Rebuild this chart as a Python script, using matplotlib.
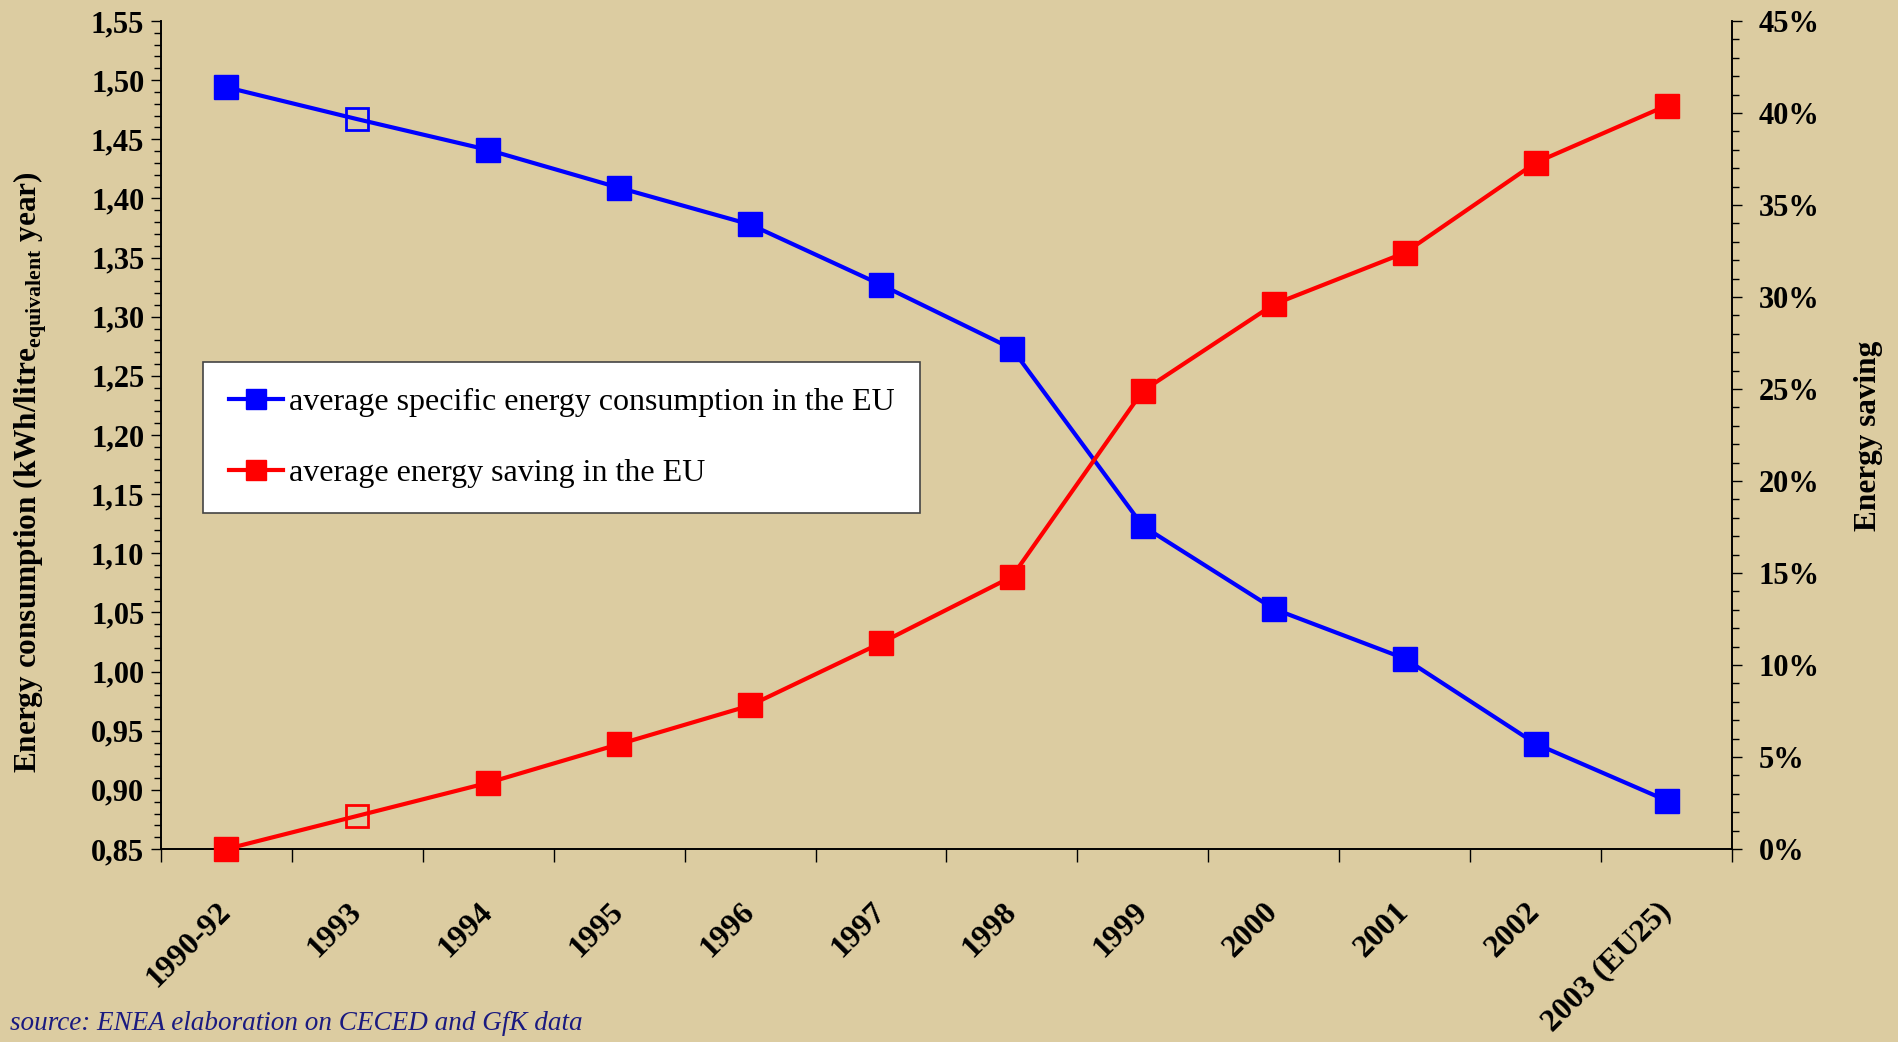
import matplotlib
matplotlib.use('Agg')
import matplotlib.pyplot as plt
from matplotlib.ticker import MultipleLocator, FuncFormatter, FixedLocator
from matplotlib.lines import Line2D

# data
years = ['1990-92', '1993', '1994', '1995', '1996', '1997', '1998',
         '1999', '2000', '2001', '2002', '2003 (EU25)']
consumption = [1.494, 1.467, 1.441, 1.409, 1.378, 1.327, 1.273,
               1.123, 1.053, 1.011, 0.939, 0.891]
saving = [0.0, 1.8, 3.6, 5.7, 7.8, 11.2, 14.8, 24.9, 29.6, 32.4, 37.3, 40.4]
hollow_idx = 1  # 1993 drawn with empty markers

bg = '#DCCCA1'
plt.rcParams['font.family'] = ['Liberation Serif', 'DejaVu Serif']
plt.rcParams['mathtext.fontset'] = 'custom'
plt.rcParams['mathtext.bf'] = 'Liberation Serif:bold'
plt.rcParams['mathtext.rm'] = 'Liberation Serif:bold'

fig = plt.figure(figsize=(18.99, 10.42), dpi=100, facecolor=bg)
ax = fig.add_axes([161/1899, 1-849/1042, (1732-161)/1899, (849-21)/1042])
ax.set_facecolor(bg)
ax2 = ax.twinx()

x = list(range(len(years)))
filled = [i for i in x if i != hollow_idx]

ax.plot(x, consumption, color='blue', lw=3, zorder=2)
ax.plot(filled, [consumption[i] for i in filled], ls='none', marker='s', ms=17,
        color='blue', zorder=3)
ax.plot([hollow_idx], [consumption[hollow_idx]], ls='none', marker='s', ms=16,
        mfc='none', mec='blue', mew=2, zorder=3)

ax2.plot(x, saving, color='red', lw=3, zorder=2)
ax2.plot(filled, [saving[i] for i in filled], ls='none', marker='s', ms=17,
         color='red', zorder=3, clip_on=False)
ax2.plot([hollow_idx], [saving[hollow_idx]], ls='none', marker='s', ms=16,
         mfc='none', mec='red', mew=2, zorder=3)

ax.set_xlim(-0.5, len(years) - 0.5)
ax.set_ylim(0.85, 1.55)
ax2.set_ylim(0, 45)

# x axis: labels at category centres, tick marks between categories
ax.xaxis.set_major_locator(FixedLocator(x))
ax.xaxis.set_minor_locator(FixedLocator([i - 0.5 for i in range(len(years) + 1)]))
ax.set_xticklabels(years, rotation=45, ha='right', va='center',
                   rotation_mode='anchor', fontsize=23, fontweight='bold')
ax.tick_params(axis='x', which='major', length=0, pad=42)
ax.tick_params(axis='x', which='minor', length=9, width=1, direction='out')

ax.yaxis.set_major_locator(MultipleLocator(0.05))
ax.yaxis.set_minor_locator(MultipleLocator(0.01))
ax.yaxis.set_major_formatter(FuncFormatter(lambda v, p: f'{v:.2f}'.replace('.', ',')))
ax.tick_params(axis='y', which='major', length=7, width=1, pad=5, labelsize=22)
ax.tick_params(axis='y', which='minor', length=5, width=1)
for lab in ax.get_yticklabels():
    lab.set_fontweight('bold')

ax2.yaxis.set_major_locator(MultipleLocator(5))
ax2.yaxis.set_minor_locator(MultipleLocator(1))
ax2.yaxis.set_major_formatter(FuncFormatter(lambda v, p: f'{v:.0f}%'))
ax2.tick_params(axis='y', which='major', length=7, width=1, pad=12, labelsize=22)
ax2.tick_params(axis='y', which='minor', length=5, width=1)
for lab in ax2.get_yticklabels():
    lab.set_fontweight('bold')

for a in (ax, ax2):
    a.spines['top'].set_visible(False)
    for s in ('left', 'bottom', 'right'):
        a.spines[s].set_linewidth(1.2)

fig.text(30/1899, 1-472/1042,
         r'Energy consumption (kWh/litre$_{\mathbf{equivalent}}$ year)',
         rotation=90, ha='center', va='center', fontsize=22.5, fontweight='bold')
fig.text(1869/1899, 1-436/1042, 'Energy saving', rotation=90,
         ha='center', va='center', fontsize=22.5, fontweight='bold')

fig.text(10/1899, 1-1023/1042, 'source: ENEA elaboration on CECED and GfK data',
         ha='left', va='center', fontsize=19.5, style='italic', color='#1A1A80')

handles = [
    Line2D([], [], color='blue', lw=3, marker='s', ms=15),
    Line2D([], [], color='red', lw=3, marker='s', ms=15),
]
leg = ax2.legend(handles, ['average specific energy consumption in the EU',
                           'average energy saving in the EU'],
                 loc='upper left', bbox_to_anchor=(203/1899, 1-362/1042),
                 bbox_transform=fig.transFigure, borderaxespad=0,
                 fontsize=23, frameon=True, fancybox=False, handlelength=1.7,
                 handletextpad=0.2, labelspacing=1.3, borderpad=0.8)
leg.get_frame().set_facecolor('white')
leg.get_frame().set_edgecolor('#444444')
leg.get_frame().set_linewidth(1.2)
leg.get_frame().set_alpha(1)

fig.savefig('out.png', dpi=100, facecolor=bg)
